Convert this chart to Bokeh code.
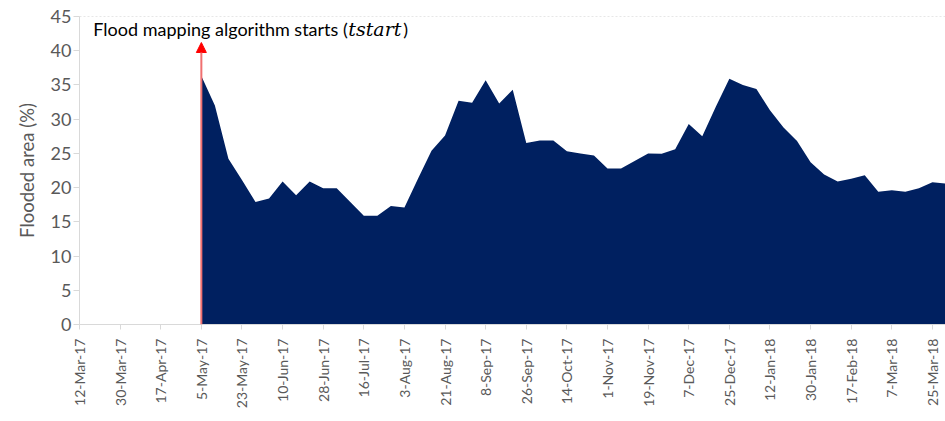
from datetime import datetime
import pandas as pd
from bokeh.plotting import figure
from bokeh.models import ColumnDataSource, FixedTicker, Range1d, Arrow, NormalHead, Label, Span
from bokeh.embed import file_html
from bokeh.resources import INLINE

obs_dates = [
    "2017-05-05", "2017-05-11", "2017-05-17", "2017-05-23", "2017-05-29", "2017-06-04",
    "2017-06-10", "2017-06-16", "2017-06-22", "2017-06-28", "2017-07-04", "2017-07-10",
    "2017-07-16", "2017-07-22", "2017-07-28", "2017-08-03", "2017-08-09", "2017-08-15",
    "2017-08-21", "2017-08-27", "2017-09-02", "2017-09-08", "2017-09-14", "2017-09-20",
    "2017-09-26", "2017-10-02", "2017-10-08", "2017-10-14", "2017-10-20", "2017-10-26",
    "2017-11-01", "2017-11-07", "2017-11-13", "2017-11-19", "2017-11-25", "2017-12-01",
    "2017-12-07", "2017-12-13", "2017-12-19", "2017-12-25", "2017-12-31", "2018-01-06",
    "2018-01-12", "2018-01-18", "2018-01-24", "2018-01-30", "2018-02-05", "2018-02-11",
    "2018-02-17", "2018-02-23", "2018-03-01", "2018-03-07", "2018-03-13", "2018-03-19",
    "2018-03-25", "2018-03-31",
]
flooded_pct = [
    36.3, 32.0, 24.2, 21.1, 17.9, 18.4,
    20.9, 18.9, 20.9, 19.9, 19.9, 17.9,
    15.9, 15.9, 17.3, 17.1, 21.3, 25.4,
    27.6, 32.7, 32.4, 35.7, 32.3, 34.3,
    26.5, 26.9, 26.9, 25.3, 25.0, 24.7,
    22.8, 22.8, 23.9, 25.0, 24.95, 25.6,
    29.3, 27.5, 31.8, 35.9, 35.0, 34.4,
    31.3, 28.8, 26.8, 23.7, 21.9, 20.9,
    21.3, 21.8, 19.4, 19.6, 19.4, 19.9,
    20.8, 20.6,
]
tick_dates = [
    "2017-03-12", "2017-03-30", "2017-04-17", "2017-05-05", "2017-05-23", "2017-06-10",
    "2017-06-28", "2017-07-16", "2017-08-03", "2017-08-21", "2017-09-08", "2017-09-26",
    "2017-10-14", "2017-11-01", "2017-11-19", "2017-12-07", "2017-12-25", "2018-01-12",
    "2018-01-30", "2018-02-17", "2018-03-07", "2018-03-25",
]
tick_labels = [
    "12-Mar-17", "30-Mar-17", "17-Apr-17", "5-May-17", "23-May-17", "10-Jun-17",
    "28-Jun-17", "16-Jul-17", "3-Aug-17", "21-Aug-17", "8-Sep-17", "26-Sep-17",
    "14-Oct-17", "1-Nov-17", "19-Nov-17", "7-Dec-17", "25-Dec-17", "12-Jan-18",
    "30-Jan-18", "17-Feb-18", "7-Mar-18", "25-Mar-18",
]
y_ticks = [0, 5, 10, 15, 20, 25, 30, 35, 40, 45]
tstart = "2017-05-05"
arrow_top = 41.2
annotation_y = 43.15


def ms(d):
    return int(pd.Timestamp(d).timestamp() * 1000)


src = ColumnDataSource(dict(x=pd.to_datetime(obs_dates), y=flooded_pct))

p = figure(
    width=945, height=421, x_axis_type="datetime",
    output_backend="svg", toolbar_location=None,
    x_range=Range1d(datetime(2017, 3, 12), datetime(2018, 3, 30, 19)),
    y_range=Range1d(0, 45),
    min_border_left=79, min_border_right=0, min_border_top=16, min_border_bottom=97,
)
p.outline_line_color = None
p.xgrid.visible = False
p.ygrid.visible = False

p.varea(x="x", y1=0, y2="y", source=src, fill_color="#002060")

p.add_layout(Span(location=45, dimension="width", line_color="#d0d0d0",
                  line_dash="2 2", line_width=1))

ts = ms(tstart)
p.add_layout(Arrow(x_start=ts, y_start=0, x_end=ts, y_end=arrow_top,
                   line_color="#f07070", line_width=2,
                   end=NormalHead(size=10, fill_color="red", line_color="red")))

common = dict(x=ts, y=annotation_y, text_color="black", text_baseline="alphabetic")
p.add_layout(Label(x_offset=-108, text="Flood mapping algorithm starts (",
                   text_font="Lato", text_font_size="18px", **common))
p.add_layout(Label(x_offset=147, text="tstart", text_font="DejaVu Serif",
                   text_font_style="italic", text_font_size="19px", **common))
p.add_layout(Label(x_offset=202, text=")", text_font="Lato",
                   text_font_size="18px", **common))

xa = p.xaxis[0]
xa.ticker = FixedTicker(ticks=[ms(d) for d in tick_dates])
xa.major_label_overrides = {ms(d): lab for d, lab in zip(tick_dates, tick_labels)}
xa.major_label_orientation = 3.14159265 / 2
xa.minor_tick_line_color = None
xa.major_tick_in = 0
xa.major_tick_out = 5
xa.major_label_standoff = 9

ya = p.yaxis[0]
ya.ticker = FixedTicker(ticks=y_ticks)
ya.minor_tick_line_color = None
ya.major_tick_in = 0
ya.major_tick_out = 6
ya.major_label_standoff = 2
ya.axis_label = "Flooded area (%)"
ya.axis_label_standoff = 10

for ax in (xa, ya):
    ax.axis_line_color = "#d9d9d9"
    ax.major_tick_line_color = "#d9d9d9"
    ax.major_label_text_color = "#595959"
    ax.major_label_text_font = "Lato"
    ax.axis_label_text_font = "Lato"
    ax.axis_label_text_color = "#595959"
    ax.axis_label_text_font_style = "normal"
    ax.axis_label_text_font_size = "18.5px"
xa.major_label_text_font_size = "14px"
ya.major_label_text_font_size = "18px"

open("out.html", "w").write(file_html(p, INLINE))
